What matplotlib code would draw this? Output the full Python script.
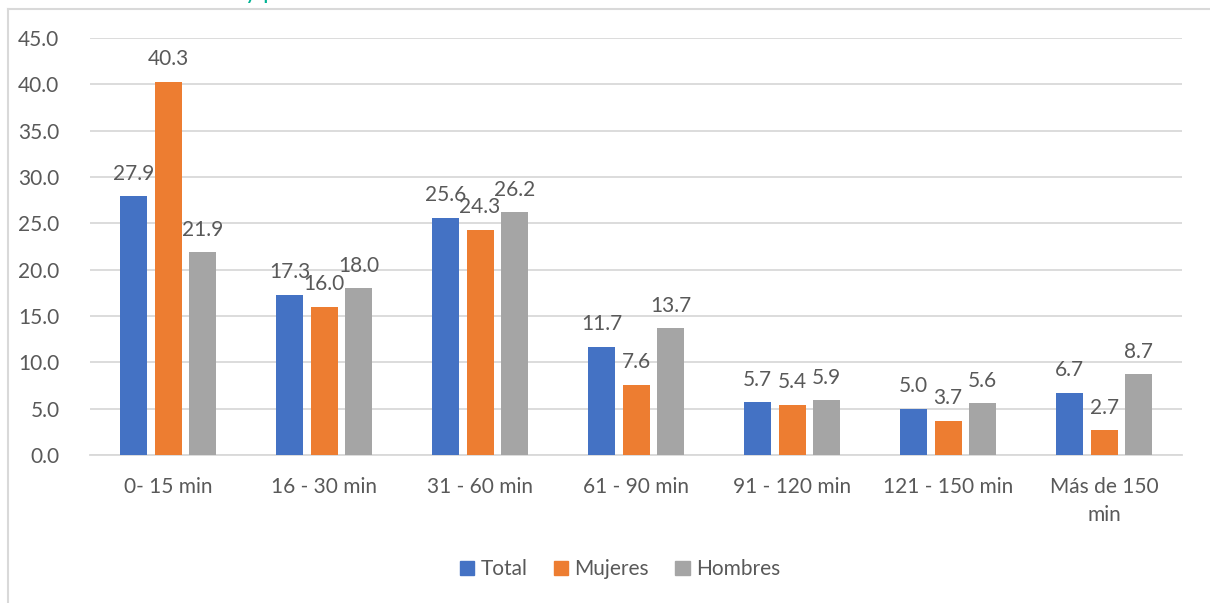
import matplotlib
matplotlib.use("Agg")
import matplotlib.pyplot as plt
import numpy as np
from matplotlib.lines import Line2D

categories = ["0- 15 min", "16 - 30 min", "31 - 60 min", "61 - 90 min",
              "91 - 120 min", "121 - 150 min", "Más de 150\nmin"]
total = [27.9, 17.3, 25.6, 11.7, 5.7, 5.0, 6.7]
mujeres = [40.3, 16.0, 24.3, 7.6, 5.4, 3.7, 2.7]
hombres = [21.9, 18.0, 26.2, 13.7, 5.9, 5.6, 8.7]
series_names = ["Total", "Mujeres", "Hombres"]
yticks = [0, 5, 10, 15, 20, 25, 30, 35, 40, 45]

colors = ["#4472C4", "#ED7D31", "#A5A5A5"]
text_color = "#595959"
grid_color = "#D9D9D9"

plt.rcParams["font.family"] = ["Lato", "DejaVu Sans"]

fig = plt.figure(figsize=(12.10, 6.03), dpi=100)
ax = fig.add_axes([0.0744, 0.2454, 0.9026, 0.6916])

x = np.arange(len(categories))
width = 0.173
step = 0.221
for i, (vals, name, c) in enumerate(zip([total, mujeres, hombres], series_names, colors)):
    pos = x + (i - 1) * step
    ax.bar(pos, vals, width=width, color=c, label=name, zorder=3)
    for p, v in zip(pos, vals):
        ax.annotate(f"{v:.1f}", (p, v), xytext=(0, 9), textcoords="offset points",
                    ha="center", va="bottom", fontsize=15, color=text_color, zorder=4)

ax.set_xlim(-0.5, len(categories) - 0.5)
ax.set_ylim(0, 45)
ax.set_yticks(yticks)
ax.set_yticklabels([f"{t:.1f}" for t in yticks])
ax.set_xticks(x)
ax.set_xticklabels(categories, linespacing=1.5)
ax.tick_params(axis="both", length=0, labelsize=15, colors=text_color)
ax.tick_params(axis="y", pad=22)
ax.tick_params(axis="x", pad=16)
ax.yaxis.grid(True, color=grid_color, linewidth=1.3, zorder=0)
for s in ["top", "right", "left"]:
    ax.spines[s].set_visible(False)
ax.spines["bottom"].set_color(grid_color)
ax.spines["bottom"].set_linewidth(1.3)

handles = [plt.Rectangle((0, 0), 1, 1, color=c) for c in colors]
fig.legend(handles, series_names, loc="center", bbox_to_anchor=(0.5125, 0.056), ncol=3,
           frameon=False, fontsize=15, handlelength=0.7, handleheight=0.7,
           handletextpad=0.3, columnspacing=1.25, labelcolor=text_color)

# chart frame
fig.add_artist(Line2D([8 / 1210, 8 / 1210], [0, 1 - 9 / 603], transform=fig.transFigure,
                      color=grid_color, linewidth=1.5))
fig.add_artist(Line2D([8 / 1210, 1], [1 - 9 / 603, 1 - 9 / 603], transform=fig.transFigure,
                      color=grid_color, linewidth=1.5))

# heading above the frame
fig.text(245 / 1210, 1 + 1 / 603, "y p", color="#00B394", fontsize=17,
         ha="left", va="baseline")

fig.savefig("out.png", dpi=100)
